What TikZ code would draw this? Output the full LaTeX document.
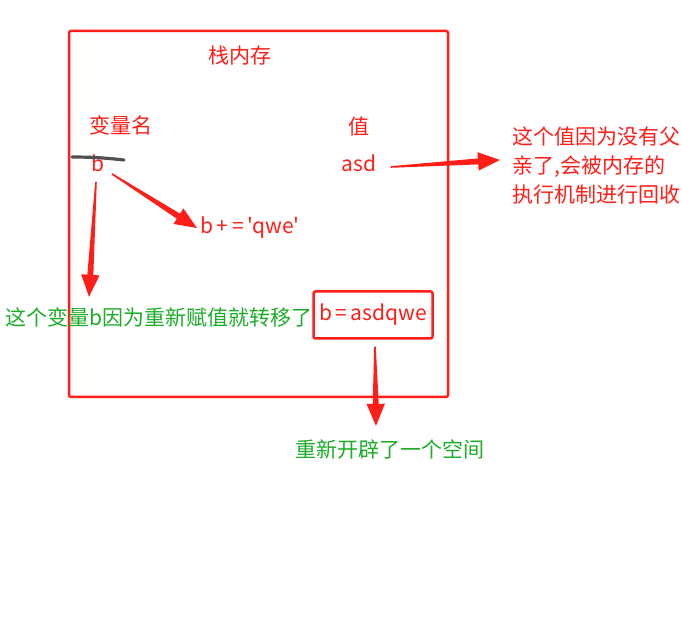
\documentclass[tikz,border=0pt]{standalone}
\usepackage{fontspec}
\newfontfamily\cjk{Noto Sans CJK SC}
\usetikzlibrary{calc}
\definecolor{inkred}{RGB}{255,30,24}
\definecolor{inkgreen}{RGB}{28,172,40}
\definecolor{inkgray}{RGB}{80,80,80}
% 锥形粗箭头
\newcommand\fatarrow[2]{%
  \coordinate (fa-h) at ($(#2)!11pt!(#1)$);
  \fill[inkred] ($(#1)!0.4pt!90:(#2)$) -- ($(fa-h)!1.5pt!-90:(#1)$) -- ($(fa-h)!4.6pt!-90:(#1)$)
    -- (#2) -- ($(fa-h)!4.6pt!90:(#1)$) -- ($(fa-h)!1.5pt!90:(#1)$) -- ($(#1)!0.4pt!-90:(#2)$) -- cycle;
}
\begin{document}
\begin{tikzpicture}[x=0.5pt, y=-0.5pt,
    txt/.style={inner sep=0pt, font=\cjk\fontsize{10.5}{14.5}\selectfont},
    redtxt/.style={txt, text=inkred},
    greentxt/.style={txt, text=inkgreen},
    redbox/.style={draw=inkred, line width=1.25pt, rounded corners=1pt}]
    \useasboundingbox (0,0) rectangle (682,631);

    % 栈内存
    \draw[redbox] (69,31) rectangle (448,397);
    \node[redtxt] (stacktitle) at (240,56) {栈内存};
    \node[redtxt] (varname) at (121,125) {变量名};
    \node[redtxt] (valname) at (359,127) {值};

    % 变量与值
    \node[redtxt] (bvar) at (98,163) {b};
    \draw[inkgray, line width=1.6pt, line cap=round] (72,157) to[bend left=3] (124,160);
    \node[redtxt] (asd) at (359,163) {asd};
    \node[redtxt] (plusq) at (250,228) {b\,+\,=\,'qwe'};

    % 新空间
    \node[redbox, minimum width=59.5pt, minimum height=23.5pt, text=inkred,
        font=\cjk\fontsize{10.5}{14.5}\selectfont, inner sep=0pt] (newbox) at (373,315) {\raisebox{2pt}{b\,=\,asdqwe}};

    % 说明文字
    \node[redtxt, anchor=west, align=left] (note) at (512,165) {这个值因为没有父\\亲了,会被内存的\\执行机制进行回收};
    \node[greentxt, anchor=west] (move) at (5,317) {这个变量b因为重新赋值就转移了};
    \node[greentxt] (newspace) at (390,449) {重新开辟了一个空间};

    % 箭头
    \fatarrow{$(asd.east)+(14,4)$}{$(note.west)+(-12,-5)$}
    \fatarrow{$(bvar.south east)+(7,2)$}{$(plusq.west)+(-3,0)$}
    \fatarrow{$(bvar.south)+(-2,10)$}{$(move.north west)+(84,-10)$}
    \fatarrow{$(newbox.south)+(2,7)$}{$(newspace.north)+(-14,-13)$}
\end{tikzpicture}
\end{document}
